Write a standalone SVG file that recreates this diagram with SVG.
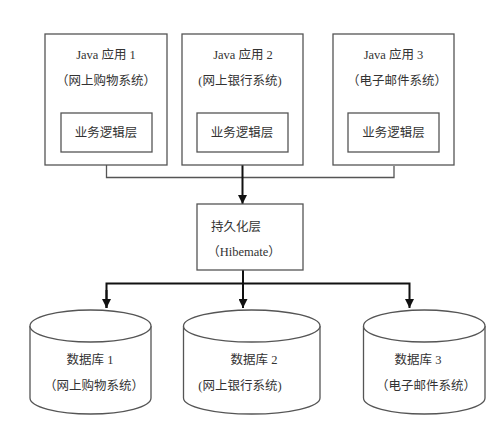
<svg xmlns="http://www.w3.org/2000/svg" width="500" height="440" viewBox="0 0 500 440">
<defs>
<marker id="arr" viewBox="0 0 10 10" refX="10" refY="5" markerWidth="4.5" markerHeight="4.5" markerUnits="strokeWidth" orient="auto">
<path d="M0,0 L10,5 L0,10 z" fill="#111"/>
</marker>
</defs>
<style>
.box{fill:#fff;stroke:#555;stroke-width:1.3}
.t{font-family:"Liberation Serif","Noto Sans CJK SC",serif;font-size:12.5px;fill:#333;text-anchor:middle}
.thin{fill:none;stroke:#555;stroke-width:1.3}
.thick{fill:none;stroke:#111;stroke-width:2}
</style>
<rect width="500" height="440" fill="#fff"/>
<g id="connectors">
<polyline class="thin" points="106.5,165 106.5,177.5 394,177.5 394,166"/>
<line class="thick" x1="242.5" y1="165" x2="242.5" y2="204" marker-end="url(#arr)"/>
<line class="thick" x1="243" y1="270" x2="243" y2="308" marker-end="url(#arr)"/>
<polyline class="thick" points="106.5,308 106.5,283.5 409.5,283.5 409.5,308" marker-end="url(#arr)"/>
<line class="thick" x1="106.5" y1="290" x2="106.5" y2="308" marker-end="url(#arr)"/>
</g>
<g id="app1">
<rect class="box" x="45" y="34" width="122" height="131"/>
<text class="t" x="106" y="59">Java 应用 1</text>
<text class="t" x="106" y="85">（网上购物系统）</text>
<rect class="box" x="61" y="113" width="91" height="39"/>
<text class="t" x="106" y="137" font-size="13">业务逻辑层</text>
</g>
<g id="app2">
<rect class="box" x="182" y="34" width="121" height="131"/>
<text class="t" x="243" y="59">Java 应用 2</text>
<text class="t" x="240" y="85">(网上银行系统)</text>
<rect class="box" x="197" y="113" width="91" height="39"/>
<text class="t" x="242" y="137" font-size="13">业务逻辑层</text>
</g>
<g id="app3">
<rect class="box" x="333" y="34" width="121" height="131"/>
<text class="t" x="393.5" y="59">Java 应用 3</text>
<text class="t" x="397" y="85">（电子邮件系统）</text>
<rect class="box" x="348" y="113" width="91" height="39"/>
<text class="t" x="393.5" y="137" font-size="13">业务逻辑层</text>
</g>
<g id="persist">
<rect class="box" x="197" y="204" width="106" height="66"/>
<text class="t" x="236" y="231" text-anchor="middle">持久化层</text>
<text class="t" x="244" y="256">（Hibemate）</text>
</g>
<g id="db1">
<path class="box" d="M30,326 L30,398 A60.5,16 0 0 0 151,398 L151,326"/>
<ellipse class="box" cx="90.5" cy="326" rx="60.5" ry="16"/>
<text class="t" x="90" y="364">数据库 1</text>
<text class="t" x="94" y="390">（网上购物系统）</text>
</g>
<g id="db2">
<path class="box" d="M183.5,326 L183.5,398 A68.25,16 0 0 0 320,398 L320,326"/>
<ellipse class="box" cx="251.75" cy="326" rx="68.25" ry="16"/>
<text class="t" x="254" y="364">数据库 2</text>
<text class="t" x="240" y="390">(网上银行系统)</text>
</g>
<g id="db3">
<path class="box" d="M363.5,326 L363.5,398 A60.75,16 0 0 0 485,398 L485,326"/>
<ellipse class="box" cx="424.25" cy="326" rx="60.75" ry="16"/>
<text class="t" x="418" y="364">数据库 3</text>
<text class="t" x="426" y="390">（电子邮件系统）</text>
</g>
</svg>
